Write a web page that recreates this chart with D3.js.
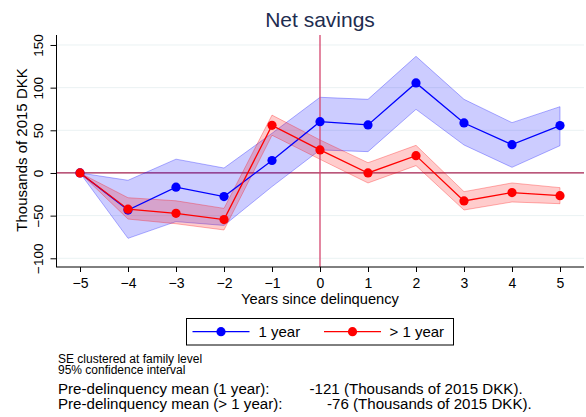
<!DOCTYPE html>
<meta charset="utf-8">
<body style="margin:0;background:#fff;">
<svg width="586" height="417"></svg>
</body>
<script src="https://cdn.jsdelivr.net/npm/d3@7"></script>
<script>
    // data (thousands of 2015 DKK)
    let years = [-5, -4, -3, -2, -1, 0, 1, 2, 3, 4, 5];
    let oneYear = [0, -43.5, -16.6, -27.7, 14.6, 60.1, 56.3, 105.5, 58.6, 33.2, 55.5];
    let oneYearHi = [0, -8.6, 16.2, 5.8, 46.5, 88.7, 86.3, 136.7, 86.3, 59, 77.7];
    let oneYearLo = [0, -76.6, -57, -61.5, -16, 27, 25, 74.6, 32.8, 6.6, 32];
    let moreYear = [0, -42.4, -47.3, -54.6, 55.8, 27, 0, 20.3, -32.8, -23, -26.6];
    let moreYearHi = [0, -29, -32.6, -41.5, 67.8, 38.7, 12, 32.4, -21.9, -11.7, -17.2];
    let moreYearLo = [0, -54, -59.5, -66.8, 44.2, 16, -11.7, 8.6, -43.4, -34, -36];
    let yTicks = [-100, -50, 0, 50, 100, 150];
    let legendLabels = ["1 year", "> 1 year"];
    let notes = ["SE clustered at family level", "95% confidence interval"];
    let means = [["Pre-delinquency mean (1 year):", "-121 (Thousands of 2015 DKK)."],
                 ["Pre-delinquency mean (> 1 year):", "-76 (Thousands of 2015 DKK)."]];

    let svg = d3.select("svg"),
        font = "'Liberation Sans', Arial, sans-serif";

    let x = d3.scaleLinear().domain([-5.5, 5.5]).range([56, 584]),
        y = d3.scaleLinear().domain([-110.2, 161.7]).range([267, 35]);

    // grid
    svg.append("g").selectAll("line")
        .data(yTicks.filter(d => d !== 0))
        .join("line")
        .attr("x1", x(-5.5)).attr("x2", x(5.5))
        .attr("y1", d => y(d)).attr("y2", d => y(d))
        .attr("stroke", "#eaf2f3").attr("stroke-width", 1);

    let series = [
        {c: "#0000ff", v: oneYear, hi: oneYearHi, lo: oneYearLo},
        {c: "#ff0000", v: moreYear, hi: moreYearHi, lo: moreYearLo}
    ];

    let area = d3.area().x(d => x(d.t)).y0(d => y(d.lo)).y1(d => y(d.hi));
    let line = d3.line().x(d => x(d.t)).y(d => y(d.v));

    // reference lines
    svg.append("line")
        .attr("x1", x(-5.5)).attr("x2", x(5.5)).attr("y1", y(0)).attr("y2", y(0))
        .attr("stroke", "#a3204f").attr("stroke-width", 1.3);

    series.forEach(s => {
        let pts = years.map((t, i) => ({t: t, v: s.v[i], hi: s.hi[i], lo: s.lo[i]}));
        svg.append("path").datum(pts).attr("d", area)
            .attr("fill", s.c).attr("fill-opacity", 0.2)
            .attr("stroke", s.c).attr("stroke-opacity", 0.3).attr("stroke-width", 1);
    });

    svg.append("line")
        .attr("x1", x(0)).attr("x2", x(0)).attr("y1", 35).attr("y2", 267)
        .attr("stroke", "#d4466f").attr("stroke-width", 1.3);

    series.forEach(s => {
        let pts = years.map((t, i) => ({t: t, v: s.v[i]}));
        svg.append("path").datum(pts).attr("d", line)
            .attr("fill", "none").attr("stroke", s.c).attr("stroke-width", 1.3);
        svg.append("g").selectAll("circle").data(pts).join("circle")
            .attr("cx", d => x(d.t)).attr("cy", d => y(d.v)).attr("r", 4.6)
            .attr("fill", s.c);
    });

    // axes
    let xAxis = svg.append("g").attr("transform", "translate(0,267)")
        .call(d3.axisBottom(x).tickValues(years).tickSize(5).tickPadding(6).tickFormat(d3.format("d")));
    xAxis.select(".domain").attr("stroke", "#000").attr("d", "M56,0H584");
    xAxis.selectAll("text").attr("font-family", font).attr("font-size", 14).attr("fill", "#000");

    let yAxis = svg.append("g").attr("transform", "translate(56.5,0)")
        .call(d3.axisLeft(y).tickValues(yTicks).tickSize(6).tickPadding(0));
    yAxis.select(".domain").attr("stroke", "#000").attr("d", "M0,35V267");
    yAxis.selectAll("text").attr("font-family", font).attr("font-size", 13.5).attr("fill", "#000")
        .attr("text-anchor", "middle").attr("dy", 0)
        .attr("transform", "translate(-18,0) rotate(-90)")
        .attr("x", 0).attr("y", 0).attr("dominant-baseline", "central");
    svg.selectAll(".tick line").attr("stroke", "#000");

    // titles
    svg.append("text").attr("x", 320).attr("y", 26.5).attr("text-anchor", "middle")
        .attr("font-family", font).attr("font-size", 21).attr("fill", "#1e2d50").text("Net savings");
    svg.append("text").attr("x", 320).attr("y", 304).attr("text-anchor", "middle")
        .attr("font-family", font).attr("font-size", 14.7).text("Years since delinquency");
    svg.append("text").attr("transform", "translate(26.5,150) rotate(-90)").attr("text-anchor", "middle")
        .attr("font-family", font).attr("font-size", 15).text("Thousands of 2015 DKK");

    // legend
    let lg = svg.append("g");
    lg.append("rect").attr("x", 186.5).attr("y", 318.5).attr("width", 267).attr("height", 26.5)
        .attr("fill", "#fff").attr("stroke", "#000").attr("stroke-width", 1);
    [[192.5, 258.5], [324, 389.5]].forEach((p, i) => {
        lg.append("line").attr("x1", p[0]).attr("x2", p[0] + 57).attr("y1", 331.7).attr("y2", 331.7)
            .attr("stroke", series[i].c).attr("stroke-width", 1.3);
        lg.append("circle").attr("cx", p[0] + 28.5).attr("cy", 331.7).attr("r", 4.6).attr("fill", series[i].c);
        lg.append("text").attr("x", p[1]).attr("y", 337.3).attr("font-family", font)
            .attr("font-size", 15).text(legendLabels[i]);
    });

    // notes
    notes.forEach((t, i) => {
        svg.append("text").attr("x", 58).attr("y", 362.5 + i * 11).attr("font-family", font)
            .attr("font-size", 12).text(t);
    });
    means.forEach((m, i) => {
        svg.append("text").attr("x", 58).attr("y", 394 + i * 15).attr("font-family", font)
            .attr("font-size", 15.1).text(m[0]);
        svg.append("text").attr("x", i === 0 ? 309.5 : 327).attr("y", 394 + i * 15).attr("font-family", font)
            .attr("font-size", 15.1).text(m[1]);
    });
</script>
